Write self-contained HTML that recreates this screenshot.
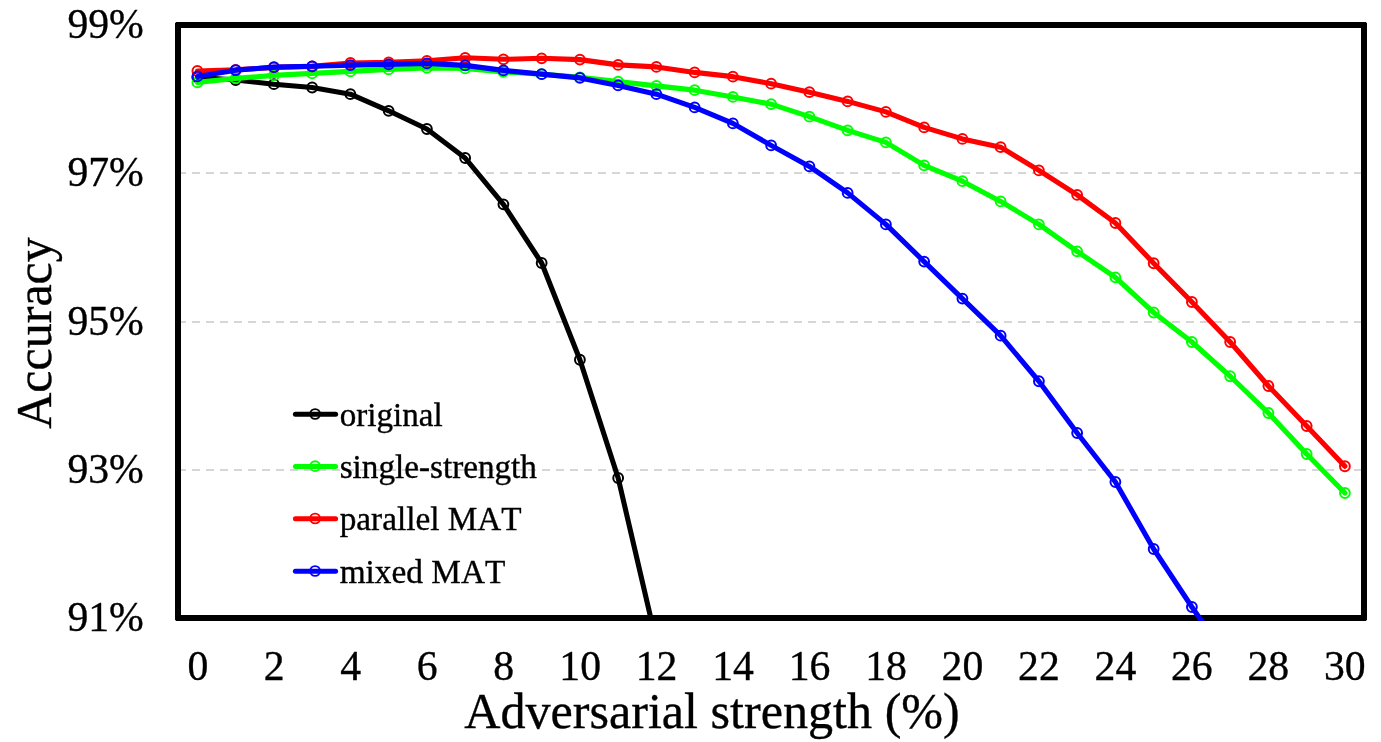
<!DOCTYPE html>
<html><head><meta charset="utf-8"><title>chart</title>
<style>
html,body{margin:0;padding:0;background:#fff;}
body{width:1381px;height:742px;overflow:hidden;font-family:"Liberation Serif",serif;}
svg{display:block;position:absolute;left:0;top:0;will-change:transform;}
text{font-family:"Liberation Serif",serif;fill:#000;font-kerning:none;stroke:#000;stroke-width:0.35px;}
</style></head><body>
<svg width="1381" height="742" viewBox="0 0 1381 742">
<rect x="0" y="0" width="1381" height="742" fill="#fff"/>
<defs><clipPath id="plot"><rect x="175" y="22" width="1192" height="599"/></clipPath></defs>
<line x1="178" y1="173.0" x2="1364" y2="173.0" stroke="#d6d6d6" stroke-width="2" stroke-dasharray="8 6"/>
<line x1="178" y1="322.0" x2="1364" y2="322.0" stroke="#d6d6d6" stroke-width="2" stroke-dasharray="8 6"/>
<line x1="178" y1="470.0" x2="1364" y2="470.0" stroke="#d6d6d6" stroke-width="2" stroke-dasharray="8 6"/>
<path fill="#000" fill-rule="evenodd" d="M176.2 22H1365.8L1367 23.2V619.8L1365.8 621H176.2L175 619.8V23.2ZM181 28V615H1361V28Z"/>
<g clip-path="url(#plot)">
<circle cx="197.40" cy="77.40" r="4.9" fill="#fff"/>
<circle cx="235.65" cy="80.00" r="4.9" fill="#fff"/>
<circle cx="273.90" cy="84.20" r="4.9" fill="#fff"/>
<circle cx="312.15" cy="87.50" r="4.9" fill="#fff"/>
<circle cx="350.40" cy="94.20" r="4.9" fill="#fff"/>
<circle cx="388.65" cy="110.80" r="4.9" fill="#fff"/>
<circle cx="426.90" cy="129.00" r="4.9" fill="#fff"/>
<circle cx="465.15" cy="158.00" r="4.9" fill="#fff"/>
<circle cx="503.40" cy="204.30" r="4.9" fill="#fff"/>
<circle cx="541.65" cy="263.00" r="4.9" fill="#fff"/>
<circle cx="579.90" cy="359.75" r="4.9" fill="#fff"/>
<circle cx="618.15" cy="478.00" r="4.9" fill="#fff"/>
<circle cx="656.40" cy="642.00" r="4.9" fill="#fff"/>
<circle cx="197.40" cy="82.40" r="4.9" fill="#fff"/>
<circle cx="235.65" cy="78.40" r="4.9" fill="#fff"/>
<circle cx="273.90" cy="75.40" r="4.9" fill="#fff"/>
<circle cx="312.15" cy="73.40" r="4.9" fill="#fff"/>
<circle cx="350.40" cy="71.40" r="4.9" fill="#fff"/>
<circle cx="388.65" cy="69.40" r="4.9" fill="#fff"/>
<circle cx="426.90" cy="67.90" r="4.9" fill="#fff"/>
<circle cx="465.15" cy="68.40" r="4.9" fill="#fff"/>
<circle cx="503.40" cy="71.90" r="4.9" fill="#fff"/>
<circle cx="541.65" cy="74.15" r="4.9" fill="#fff"/>
<circle cx="579.90" cy="77.40" r="4.9" fill="#fff"/>
<circle cx="618.15" cy="81.65" r="4.9" fill="#fff"/>
<circle cx="656.40" cy="85.90" r="4.9" fill="#fff"/>
<circle cx="694.65" cy="90.15" r="4.9" fill="#fff"/>
<circle cx="732.90" cy="96.90" r="4.9" fill="#fff"/>
<circle cx="771.15" cy="104.15" r="4.9" fill="#fff"/>
<circle cx="809.40" cy="116.65" r="4.9" fill="#fff"/>
<circle cx="847.65" cy="130.40" r="4.9" fill="#fff"/>
<circle cx="885.90" cy="142.40" r="4.9" fill="#fff"/>
<circle cx="924.15" cy="165.40" r="4.9" fill="#fff"/>
<circle cx="962.40" cy="181.15" r="4.9" fill="#fff"/>
<circle cx="1000.65" cy="201.40" r="4.9" fill="#fff"/>
<circle cx="1038.90" cy="224.40" r="4.9" fill="#fff"/>
<circle cx="1077.15" cy="251.40" r="4.9" fill="#fff"/>
<circle cx="1115.40" cy="277.30" r="4.9" fill="#fff"/>
<circle cx="1153.65" cy="312.50" r="4.9" fill="#fff"/>
<circle cx="1191.90" cy="342.00" r="4.9" fill="#fff"/>
<circle cx="1230.15" cy="376.25" r="4.9" fill="#fff"/>
<circle cx="1268.40" cy="413.00" r="4.9" fill="#fff"/>
<circle cx="1306.65" cy="454.00" r="4.9" fill="#fff"/>
<circle cx="1344.90" cy="493.00" r="4.9" fill="#fff"/>
<circle cx="197.40" cy="71.00" r="4.9" fill="#fff"/>
<circle cx="235.65" cy="69.90" r="4.9" fill="#fff"/>
<circle cx="273.90" cy="67.40" r="4.9" fill="#fff"/>
<circle cx="312.15" cy="66.40" r="4.9" fill="#fff"/>
<circle cx="350.40" cy="63.00" r="4.9" fill="#fff"/>
<circle cx="388.65" cy="62.40" r="4.9" fill="#fff"/>
<circle cx="426.90" cy="60.90" r="4.9" fill="#fff"/>
<circle cx="465.15" cy="57.80" r="4.9" fill="#fff"/>
<circle cx="503.40" cy="59.30" r="4.9" fill="#fff"/>
<circle cx="541.65" cy="58.30" r="4.9" fill="#fff"/>
<circle cx="579.90" cy="59.60" r="4.9" fill="#fff"/>
<circle cx="618.15" cy="64.90" r="4.9" fill="#fff"/>
<circle cx="656.40" cy="66.90" r="4.9" fill="#fff"/>
<circle cx="694.65" cy="72.40" r="4.9" fill="#fff"/>
<circle cx="732.90" cy="76.65" r="4.9" fill="#fff"/>
<circle cx="771.15" cy="83.65" r="4.9" fill="#fff"/>
<circle cx="809.40" cy="92.15" r="4.9" fill="#fff"/>
<circle cx="847.65" cy="101.40" r="4.9" fill="#fff"/>
<circle cx="885.90" cy="111.90" r="4.9" fill="#fff"/>
<circle cx="924.15" cy="127.40" r="4.9" fill="#fff"/>
<circle cx="962.40" cy="138.90" r="4.9" fill="#fff"/>
<circle cx="1000.65" cy="147.15" r="4.9" fill="#fff"/>
<circle cx="1038.90" cy="170.40" r="4.9" fill="#fff"/>
<circle cx="1077.15" cy="194.90" r="4.9" fill="#fff"/>
<circle cx="1115.40" cy="223.00" r="4.9" fill="#fff"/>
<circle cx="1153.65" cy="263.25" r="4.9" fill="#fff"/>
<circle cx="1191.90" cy="302.00" r="4.9" fill="#fff"/>
<circle cx="1230.15" cy="342.00" r="4.9" fill="#fff"/>
<circle cx="1268.40" cy="386.00" r="4.9" fill="#fff"/>
<circle cx="1306.65" cy="426.00" r="4.9" fill="#fff"/>
<circle cx="1344.90" cy="466.25" r="4.9" fill="#fff"/>
<circle cx="197.40" cy="76.40" r="4.9" fill="#fff"/>
<circle cx="235.65" cy="70.15" r="4.9" fill="#fff"/>
<circle cx="273.90" cy="67.10" r="4.9" fill="#fff"/>
<circle cx="312.15" cy="66.30" r="4.9" fill="#fff"/>
<circle cx="350.40" cy="65.10" r="4.9" fill="#fff"/>
<circle cx="388.65" cy="64.40" r="4.9" fill="#fff"/>
<circle cx="426.90" cy="63.40" r="4.9" fill="#fff"/>
<circle cx="465.15" cy="65.40" r="4.9" fill="#fff"/>
<circle cx="503.40" cy="70.40" r="4.9" fill="#fff"/>
<circle cx="541.65" cy="74.15" r="4.9" fill="#fff"/>
<circle cx="579.90" cy="77.90" r="4.9" fill="#fff"/>
<circle cx="618.15" cy="85.40" r="4.9" fill="#fff"/>
<circle cx="656.40" cy="94.15" r="4.9" fill="#fff"/>
<circle cx="694.65" cy="107.40" r="4.9" fill="#fff"/>
<circle cx="732.90" cy="123.40" r="4.9" fill="#fff"/>
<circle cx="771.15" cy="145.40" r="4.9" fill="#fff"/>
<circle cx="809.40" cy="166.40" r="4.9" fill="#fff"/>
<circle cx="847.65" cy="192.90" r="4.9" fill="#fff"/>
<circle cx="885.90" cy="224.40" r="4.9" fill="#fff"/>
<circle cx="924.15" cy="261.60" r="4.9" fill="#fff"/>
<circle cx="962.40" cy="298.60" r="4.9" fill="#fff"/>
<circle cx="1000.65" cy="335.70" r="4.9" fill="#fff"/>
<circle cx="1038.90" cy="381.25" r="4.9" fill="#fff"/>
<circle cx="1077.15" cy="433.00" r="4.9" fill="#fff"/>
<circle cx="1115.40" cy="482.00" r="4.9" fill="#fff"/>
<circle cx="1153.65" cy="549.00" r="4.9" fill="#fff"/>
<circle cx="1191.90" cy="607.00" r="4.9" fill="#fff"/>
<circle cx="1230.15" cy="662.00" r="4.9" fill="#fff"/>
<polyline points="197.40,77.40 235.65,80.00 273.90,84.20 312.15,87.50 350.40,94.20 388.65,110.80 426.90,129.00 465.15,158.00 503.40,204.30 541.65,263.00 579.90,359.75 618.15,478.00 656.40,642.00" fill="none" stroke="#000000" stroke-width="5.1" stroke-linejoin="round" stroke-linecap="round"/>
<circle cx="197.40" cy="77.40" r="4.9" fill="none" stroke="#000000" stroke-width="2.0"/>
<circle cx="235.65" cy="80.00" r="4.9" fill="none" stroke="#000000" stroke-width="2.0"/>
<circle cx="273.90" cy="84.20" r="4.9" fill="none" stroke="#000000" stroke-width="2.0"/>
<circle cx="312.15" cy="87.50" r="4.9" fill="none" stroke="#000000" stroke-width="2.0"/>
<circle cx="350.40" cy="94.20" r="4.9" fill="none" stroke="#000000" stroke-width="2.0"/>
<circle cx="388.65" cy="110.80" r="4.9" fill="none" stroke="#000000" stroke-width="2.0"/>
<circle cx="426.90" cy="129.00" r="4.9" fill="none" stroke="#000000" stroke-width="2.0"/>
<circle cx="465.15" cy="158.00" r="4.9" fill="none" stroke="#000000" stroke-width="2.0"/>
<circle cx="503.40" cy="204.30" r="4.9" fill="none" stroke="#000000" stroke-width="2.0"/>
<circle cx="541.65" cy="263.00" r="4.9" fill="none" stroke="#000000" stroke-width="2.0"/>
<circle cx="579.90" cy="359.75" r="4.9" fill="none" stroke="#000000" stroke-width="2.0"/>
<circle cx="618.15" cy="478.00" r="4.9" fill="none" stroke="#000000" stroke-width="2.0"/>
<circle cx="656.40" cy="642.00" r="4.9" fill="none" stroke="#000000" stroke-width="2.0"/>
<polyline points="197.40,82.40 235.65,78.40 273.90,75.40 312.15,73.40 350.40,71.40 388.65,69.40 426.90,67.90 465.15,68.40 503.40,71.90 541.65,74.15 579.90,77.40 618.15,81.65 656.40,85.90 694.65,90.15 732.90,96.90 771.15,104.15 809.40,116.65 847.65,130.40 885.90,142.40 924.15,165.40 962.40,181.15 1000.65,201.40 1038.90,224.40 1077.15,251.40 1115.40,277.30 1153.65,312.50 1191.90,342.00 1230.15,376.25 1268.40,413.00 1306.65,454.00 1344.90,493.00" fill="none" stroke="#00ff00" stroke-width="5.1" stroke-linejoin="round" stroke-linecap="round"/>
<circle cx="197.40" cy="82.40" r="4.9" fill="none" stroke="#00ff00" stroke-width="2.0"/>
<circle cx="235.65" cy="78.40" r="4.9" fill="none" stroke="#00ff00" stroke-width="2.0"/>
<circle cx="273.90" cy="75.40" r="4.9" fill="none" stroke="#00ff00" stroke-width="2.0"/>
<circle cx="312.15" cy="73.40" r="4.9" fill="none" stroke="#00ff00" stroke-width="2.0"/>
<circle cx="350.40" cy="71.40" r="4.9" fill="none" stroke="#00ff00" stroke-width="2.0"/>
<circle cx="388.65" cy="69.40" r="4.9" fill="none" stroke="#00ff00" stroke-width="2.0"/>
<circle cx="426.90" cy="67.90" r="4.9" fill="none" stroke="#00ff00" stroke-width="2.0"/>
<circle cx="465.15" cy="68.40" r="4.9" fill="none" stroke="#00ff00" stroke-width="2.0"/>
<circle cx="503.40" cy="71.90" r="4.9" fill="none" stroke="#00ff00" stroke-width="2.0"/>
<circle cx="541.65" cy="74.15" r="4.9" fill="none" stroke="#00ff00" stroke-width="2.0"/>
<circle cx="579.90" cy="77.40" r="4.9" fill="none" stroke="#00ff00" stroke-width="2.0"/>
<circle cx="618.15" cy="81.65" r="4.9" fill="none" stroke="#00ff00" stroke-width="2.0"/>
<circle cx="656.40" cy="85.90" r="4.9" fill="none" stroke="#00ff00" stroke-width="2.0"/>
<circle cx="694.65" cy="90.15" r="4.9" fill="none" stroke="#00ff00" stroke-width="2.0"/>
<circle cx="732.90" cy="96.90" r="4.9" fill="none" stroke="#00ff00" stroke-width="2.0"/>
<circle cx="771.15" cy="104.15" r="4.9" fill="none" stroke="#00ff00" stroke-width="2.0"/>
<circle cx="809.40" cy="116.65" r="4.9" fill="none" stroke="#00ff00" stroke-width="2.0"/>
<circle cx="847.65" cy="130.40" r="4.9" fill="none" stroke="#00ff00" stroke-width="2.0"/>
<circle cx="885.90" cy="142.40" r="4.9" fill="none" stroke="#00ff00" stroke-width="2.0"/>
<circle cx="924.15" cy="165.40" r="4.9" fill="none" stroke="#00ff00" stroke-width="2.0"/>
<circle cx="962.40" cy="181.15" r="4.9" fill="none" stroke="#00ff00" stroke-width="2.0"/>
<circle cx="1000.65" cy="201.40" r="4.9" fill="none" stroke="#00ff00" stroke-width="2.0"/>
<circle cx="1038.90" cy="224.40" r="4.9" fill="none" stroke="#00ff00" stroke-width="2.0"/>
<circle cx="1077.15" cy="251.40" r="4.9" fill="none" stroke="#00ff00" stroke-width="2.0"/>
<circle cx="1115.40" cy="277.30" r="4.9" fill="none" stroke="#00ff00" stroke-width="2.0"/>
<circle cx="1153.65" cy="312.50" r="4.9" fill="none" stroke="#00ff00" stroke-width="2.0"/>
<circle cx="1191.90" cy="342.00" r="4.9" fill="none" stroke="#00ff00" stroke-width="2.0"/>
<circle cx="1230.15" cy="376.25" r="4.9" fill="none" stroke="#00ff00" stroke-width="2.0"/>
<circle cx="1268.40" cy="413.00" r="4.9" fill="none" stroke="#00ff00" stroke-width="2.0"/>
<circle cx="1306.65" cy="454.00" r="4.9" fill="none" stroke="#00ff00" stroke-width="2.0"/>
<circle cx="1344.90" cy="493.00" r="4.9" fill="none" stroke="#00ff00" stroke-width="2.0"/>
<polyline points="197.40,71.00 235.65,69.90 273.90,67.40 312.15,66.40 350.40,63.00 388.65,62.40 426.90,60.90 465.15,57.80 503.40,59.30 541.65,58.30 579.90,59.60 618.15,64.90 656.40,66.90 694.65,72.40 732.90,76.65 771.15,83.65 809.40,92.15 847.65,101.40 885.90,111.90 924.15,127.40 962.40,138.90 1000.65,147.15 1038.90,170.40 1077.15,194.90 1115.40,223.00 1153.65,263.25 1191.90,302.00 1230.15,342.00 1268.40,386.00 1306.65,426.00 1344.90,466.25" fill="none" stroke="#ff0000" stroke-width="5.1" stroke-linejoin="round" stroke-linecap="round"/>
<circle cx="197.40" cy="71.00" r="4.9" fill="none" stroke="#ff0000" stroke-width="2.0"/>
<circle cx="235.65" cy="69.90" r="4.9" fill="none" stroke="#ff0000" stroke-width="2.0"/>
<circle cx="273.90" cy="67.40" r="4.9" fill="none" stroke="#ff0000" stroke-width="2.0"/>
<circle cx="312.15" cy="66.40" r="4.9" fill="none" stroke="#ff0000" stroke-width="2.0"/>
<circle cx="350.40" cy="63.00" r="4.9" fill="none" stroke="#ff0000" stroke-width="2.0"/>
<circle cx="388.65" cy="62.40" r="4.9" fill="none" stroke="#ff0000" stroke-width="2.0"/>
<circle cx="426.90" cy="60.90" r="4.9" fill="none" stroke="#ff0000" stroke-width="2.0"/>
<circle cx="465.15" cy="57.80" r="4.9" fill="none" stroke="#ff0000" stroke-width="2.0"/>
<circle cx="503.40" cy="59.30" r="4.9" fill="none" stroke="#ff0000" stroke-width="2.0"/>
<circle cx="541.65" cy="58.30" r="4.9" fill="none" stroke="#ff0000" stroke-width="2.0"/>
<circle cx="579.90" cy="59.60" r="4.9" fill="none" stroke="#ff0000" stroke-width="2.0"/>
<circle cx="618.15" cy="64.90" r="4.9" fill="none" stroke="#ff0000" stroke-width="2.0"/>
<circle cx="656.40" cy="66.90" r="4.9" fill="none" stroke="#ff0000" stroke-width="2.0"/>
<circle cx="694.65" cy="72.40" r="4.9" fill="none" stroke="#ff0000" stroke-width="2.0"/>
<circle cx="732.90" cy="76.65" r="4.9" fill="none" stroke="#ff0000" stroke-width="2.0"/>
<circle cx="771.15" cy="83.65" r="4.9" fill="none" stroke="#ff0000" stroke-width="2.0"/>
<circle cx="809.40" cy="92.15" r="4.9" fill="none" stroke="#ff0000" stroke-width="2.0"/>
<circle cx="847.65" cy="101.40" r="4.9" fill="none" stroke="#ff0000" stroke-width="2.0"/>
<circle cx="885.90" cy="111.90" r="4.9" fill="none" stroke="#ff0000" stroke-width="2.0"/>
<circle cx="924.15" cy="127.40" r="4.9" fill="none" stroke="#ff0000" stroke-width="2.0"/>
<circle cx="962.40" cy="138.90" r="4.9" fill="none" stroke="#ff0000" stroke-width="2.0"/>
<circle cx="1000.65" cy="147.15" r="4.9" fill="none" stroke="#ff0000" stroke-width="2.0"/>
<circle cx="1038.90" cy="170.40" r="4.9" fill="none" stroke="#ff0000" stroke-width="2.0"/>
<circle cx="1077.15" cy="194.90" r="4.9" fill="none" stroke="#ff0000" stroke-width="2.0"/>
<circle cx="1115.40" cy="223.00" r="4.9" fill="none" stroke="#ff0000" stroke-width="2.0"/>
<circle cx="1153.65" cy="263.25" r="4.9" fill="none" stroke="#ff0000" stroke-width="2.0"/>
<circle cx="1191.90" cy="302.00" r="4.9" fill="none" stroke="#ff0000" stroke-width="2.0"/>
<circle cx="1230.15" cy="342.00" r="4.9" fill="none" stroke="#ff0000" stroke-width="2.0"/>
<circle cx="1268.40" cy="386.00" r="4.9" fill="none" stroke="#ff0000" stroke-width="2.0"/>
<circle cx="1306.65" cy="426.00" r="4.9" fill="none" stroke="#ff0000" stroke-width="2.0"/>
<circle cx="1344.90" cy="466.25" r="4.9" fill="none" stroke="#ff0000" stroke-width="2.0"/>
<polyline points="197.40,76.40 235.65,70.15 273.90,67.10 312.15,66.30 350.40,65.10 388.65,64.40 426.90,63.40 465.15,65.40 503.40,70.40 541.65,74.15 579.90,77.90 618.15,85.40 656.40,94.15 694.65,107.40 732.90,123.40 771.15,145.40 809.40,166.40 847.65,192.90 885.90,224.40 924.15,261.60 962.40,298.60 1000.65,335.70 1038.90,381.25 1077.15,433.00 1115.40,482.00 1153.65,549.00 1191.90,607.00 1230.15,662.00" fill="none" stroke="#0000ff" stroke-width="5.1" stroke-linejoin="round" stroke-linecap="round"/>
<circle cx="197.40" cy="76.40" r="4.9" fill="none" stroke="#0000ff" stroke-width="2.0"/>
<circle cx="235.65" cy="70.15" r="4.9" fill="none" stroke="#0000ff" stroke-width="2.0"/>
<circle cx="273.90" cy="67.10" r="4.9" fill="none" stroke="#0000ff" stroke-width="2.0"/>
<circle cx="312.15" cy="66.30" r="4.9" fill="none" stroke="#0000ff" stroke-width="2.0"/>
<circle cx="350.40" cy="65.10" r="4.9" fill="none" stroke="#0000ff" stroke-width="2.0"/>
<circle cx="388.65" cy="64.40" r="4.9" fill="none" stroke="#0000ff" stroke-width="2.0"/>
<circle cx="426.90" cy="63.40" r="4.9" fill="none" stroke="#0000ff" stroke-width="2.0"/>
<circle cx="465.15" cy="65.40" r="4.9" fill="none" stroke="#0000ff" stroke-width="2.0"/>
<circle cx="503.40" cy="70.40" r="4.9" fill="none" stroke="#0000ff" stroke-width="2.0"/>
<circle cx="541.65" cy="74.15" r="4.9" fill="none" stroke="#0000ff" stroke-width="2.0"/>
<circle cx="579.90" cy="77.90" r="4.9" fill="none" stroke="#0000ff" stroke-width="2.0"/>
<circle cx="618.15" cy="85.40" r="4.9" fill="none" stroke="#0000ff" stroke-width="2.0"/>
<circle cx="656.40" cy="94.15" r="4.9" fill="none" stroke="#0000ff" stroke-width="2.0"/>
<circle cx="694.65" cy="107.40" r="4.9" fill="none" stroke="#0000ff" stroke-width="2.0"/>
<circle cx="732.90" cy="123.40" r="4.9" fill="none" stroke="#0000ff" stroke-width="2.0"/>
<circle cx="771.15" cy="145.40" r="4.9" fill="none" stroke="#0000ff" stroke-width="2.0"/>
<circle cx="809.40" cy="166.40" r="4.9" fill="none" stroke="#0000ff" stroke-width="2.0"/>
<circle cx="847.65" cy="192.90" r="4.9" fill="none" stroke="#0000ff" stroke-width="2.0"/>
<circle cx="885.90" cy="224.40" r="4.9" fill="none" stroke="#0000ff" stroke-width="2.0"/>
<circle cx="924.15" cy="261.60" r="4.9" fill="none" stroke="#0000ff" stroke-width="2.0"/>
<circle cx="962.40" cy="298.60" r="4.9" fill="none" stroke="#0000ff" stroke-width="2.0"/>
<circle cx="1000.65" cy="335.70" r="4.9" fill="none" stroke="#0000ff" stroke-width="2.0"/>
<circle cx="1038.90" cy="381.25" r="4.9" fill="none" stroke="#0000ff" stroke-width="2.0"/>
<circle cx="1077.15" cy="433.00" r="4.9" fill="none" stroke="#0000ff" stroke-width="2.0"/>
<circle cx="1115.40" cy="482.00" r="4.9" fill="none" stroke="#0000ff" stroke-width="2.0"/>
<circle cx="1153.65" cy="549.00" r="4.9" fill="none" stroke="#0000ff" stroke-width="2.0"/>
<circle cx="1191.90" cy="607.00" r="4.9" fill="none" stroke="#0000ff" stroke-width="2.0"/>
<circle cx="1230.15" cy="662.00" r="4.9" fill="none" stroke="#0000ff" stroke-width="2.0"/>
</g>
<circle cx="315.1" cy="414.0" r="4.9" fill="#fff"/>
<line x1="295.4" y1="414.3" x2="335.6" y2="414.3" stroke="#000000" stroke-width="5" stroke-linecap="round"/>
<circle cx="315.1" cy="414.0" r="4.9" fill="none" stroke="#000000" stroke-width="1.9"/>
<text transform="translate(339.7,425.6) scale(1.009,1)" font-size="32.8" text-anchor="start">original</text>
<circle cx="315.1" cy="466.2" r="4.9" fill="#fff"/>
<line x1="295.4" y1="466.5" x2="335.6" y2="466.5" stroke="#00ff00" stroke-width="5" stroke-linecap="round"/>
<circle cx="315.1" cy="466.2" r="4.9" fill="none" stroke="#00ff00" stroke-width="1.9"/>
<text transform="translate(339.7,477.8) scale(1.012,1)" font-size="32.8" text-anchor="start">single-strength</text>
<circle cx="315.1" cy="518.5" r="4.9" fill="#fff"/>
<line x1="295.4" y1="518.8" x2="335.6" y2="518.8" stroke="#ff0000" stroke-width="5" stroke-linecap="round"/>
<circle cx="315.1" cy="518.5" r="4.9" fill="none" stroke="#ff0000" stroke-width="1.9"/>
<text transform="translate(339.7,530.0999999999999) scale(1.014,1)" font-size="32.8" text-anchor="start">parallel MAT</text>
<circle cx="315.1" cy="571.0" r="4.9" fill="#fff"/>
<line x1="295.4" y1="571.3" x2="335.6" y2="571.3" stroke="#0000ff" stroke-width="5" stroke-linecap="round"/>
<circle cx="315.1" cy="571.0" r="4.9" fill="none" stroke="#0000ff" stroke-width="1.9"/>
<text transform="translate(339.7,582.5999999999999) scale(1.016,1)" font-size="32.8" text-anchor="start">mixed MAT</text>
<text transform="translate(143.8,38.1) scale(0.965,1)" font-size="43.2" text-anchor="end">99%</text>
<text transform="translate(143.8,186.2) scale(0.965,1)" font-size="43.2" text-anchor="end">97%</text>
<text transform="translate(143.8,335.2) scale(0.965,1)" font-size="43.2" text-anchor="end">95%</text>
<text transform="translate(143.8,483.2) scale(0.965,1)" font-size="43.2" text-anchor="end">93%</text>
<text transform="translate(143.8,631.2) scale(0.965,1)" font-size="43.2" text-anchor="end">91%</text>
<text transform="translate(197.8,680.2) scale(0.965,1)" font-size="43.2" text-anchor="middle">0</text>
<text transform="translate(274.27,680.2) scale(0.965,1)" font-size="43.2" text-anchor="middle">2</text>
<text transform="translate(350.73,680.2) scale(0.965,1)" font-size="43.2" text-anchor="middle">4</text>
<text transform="translate(427.2,680.2) scale(0.965,1)" font-size="43.2" text-anchor="middle">6</text>
<text transform="translate(503.66,680.2) scale(0.965,1)" font-size="43.2" text-anchor="middle">8</text>
<text transform="translate(580.13,680.2) scale(0.965,1)" font-size="43.2" text-anchor="middle">10</text>
<text transform="translate(656.6,680.2) scale(0.965,1)" font-size="43.2" text-anchor="middle">12</text>
<text transform="translate(733.06,680.2) scale(0.965,1)" font-size="43.2" text-anchor="middle">14</text>
<text transform="translate(809.53,680.2) scale(0.965,1)" font-size="43.2" text-anchor="middle">16</text>
<text transform="translate(885.99,680.2) scale(0.965,1)" font-size="43.2" text-anchor="middle">18</text>
<text transform="translate(962.46,680.2) scale(0.965,1)" font-size="43.2" text-anchor="middle">20</text>
<text transform="translate(1038.93,680.2) scale(0.965,1)" font-size="43.2" text-anchor="middle">22</text>
<text transform="translate(1115.39,680.2) scale(0.965,1)" font-size="43.2" text-anchor="middle">24</text>
<text transform="translate(1191.86,680.2) scale(0.965,1)" font-size="43.2" text-anchor="middle">26</text>
<text transform="translate(1268.32,680.2) scale(0.965,1)" font-size="43.2" text-anchor="middle">28</text>
<text transform="translate(1344.79,680.2) scale(0.965,1)" font-size="43.2" text-anchor="middle">30</text>
<text transform="translate(712,728.2) scale(0.987,1)" font-size="50.8" text-anchor="middle">Adversarial strength (%)</text>
<text transform="translate(51.0,333) rotate(-90) scale(0.987,1)" font-size="50.7" text-anchor="middle">Accuracy</text>
</svg>
</body></html>
